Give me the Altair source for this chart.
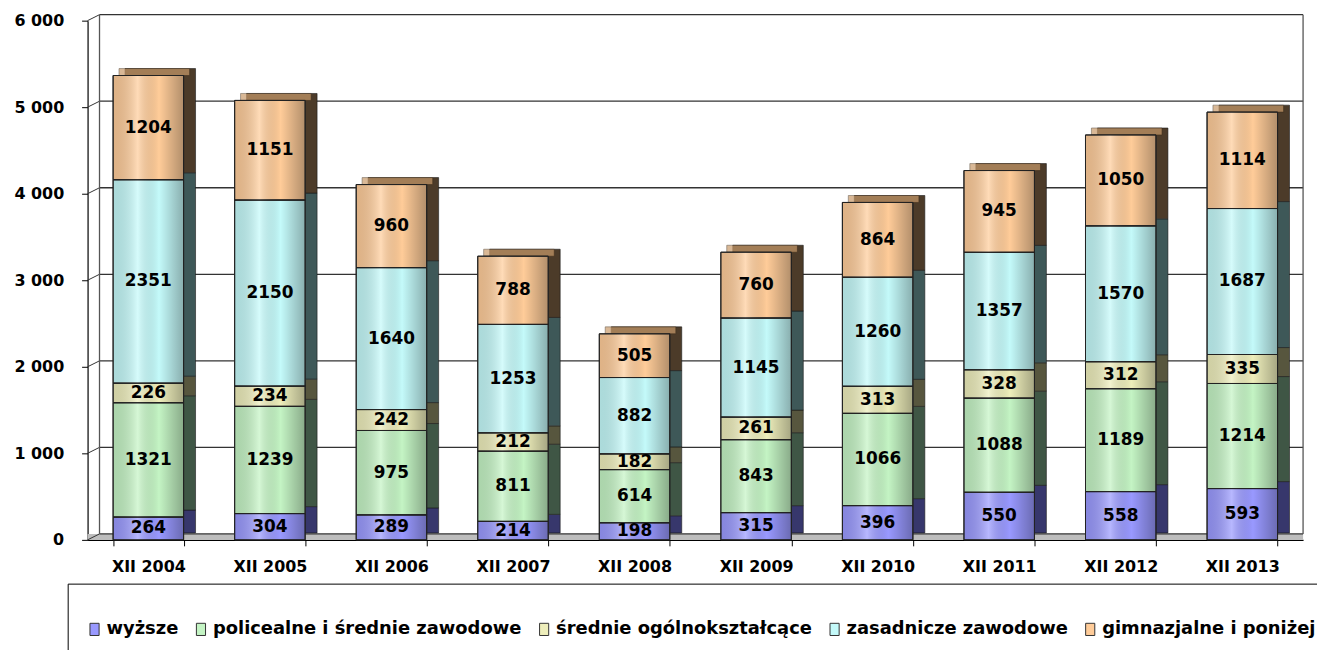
import altair as alt
import pandas as pd

years = ["XII 2004", "XII 2005", "XII 2006", "XII 2007", "XII 2008",
         "XII 2009", "XII 2010", "XII 2011", "XII 2012", "XII 2013"]
series = ["wyższe", "policealne i średnie zawodowe", "średnie ogólnokształcące",
          "zasadnicze zawodowe", "gimnazjalne i poniżej"]
wyzsze = [264, 304, 289, 214, 198, 315, 396, 550, 558, 593]
policealne = [1321, 1239, 975, 811, 614, 843, 1066, 1088, 1189, 1214]
srednie = [226, 234, 242, 212, 182, 261, 313, 328, 312, 335]
zasadnicze = [2351, 2150, 1640, 1253, 882, 1145, 1260, 1357, 1570, 1687]
gimnazjalne = [1204, 1151, 960, 788, 505, 760, 864, 945, 1050, 1114]
front_colors = ["#9999ff", "#c4f4c4", "#eeeebb", "#c4fafa", "#ffcc99"]
side_colors = ["#37376c", "#3f5645", "#57563e", "#3e5858", "#4c3b29"]
y_ticks = [0, 1000, 2000, 3000, 4000, 5000, 6000]

values = [wyzsze, policealne, srednie, zasadnicze, gimnazjalne]
rows = []
for i, yr in enumerate(years):
    base = 0
    for k, (s, vals) in enumerate(zip(series, values)):
        v = vals[i]
        rows.append(dict(year=yr, series=s, value=v, y0=base, y1=base + v,
                         mid=base + v / 2, side=side_colors[k], order=k))
        base += v
df = pd.DataFrame(rows)
tot = df.groupby("year", as_index=False)["value"].sum().rename(columns={"value": "total"})
grid = pd.DataFrame({"g": y_ticks})

W, H = 1222, 522
DX, DY = 12, -6
FONT = "DejaVu Sans"

xscale = alt.Scale(domain=years, paddingInner=0.42, paddingOuter=0.21)
yscale = alt.Scale(domain=[0, 6000], nice=False)
xaxis = alt.Axis(title=None, labelFont=FONT, labelFontSize=16, labelFontWeight="bold",
                 labelColor="black", labelAngle=0, tickBand="extent", tickSize=6,
                 tickColor="black", domainColor="black", domainWidth=1.2, labelPadding=13,
                 labelLimit=0)
yaxis = alt.Axis(title=None, values=y_ticks, grid=False,
                 labelExpr="replace(format(datum.value, ','), ',', ' ')",
                 labelFont=FONT, labelFontSize=16, labelFontWeight="bold", labelColor="black",
                 tickSize=6, tickColor="black", domainColor="black", domainWidth=1.2,
                 labelPadding=18)

X = alt.X("year:N", scale=xscale, axis=xaxis, sort=years)

# back wall grid
grid_lines = alt.Chart(grid).mark_rule(color="#333333", strokeWidth=1.3, yOffset=DY).encode(
    x=alt.value(DX), x2=alt.value(W),
    y=alt.Y("g:Q", scale=yscale, axis=yaxis))
diag = alt.Chart(grid).mark_rule(color="#333333", strokeWidth=1, y2Offset=DY).encode(
    x=alt.value(0), x2=alt.value(DX),
    y=alt.Y("g:Q", scale=yscale, axis=yaxis), y2=alt.Y2("g:Q"))
walls = alt.Chart(pd.DataFrame({"xv": [DX, W]})).mark_rule(
    color="#555555", strokeWidth=1.3, yOffset=DY, y2Offset=DY).encode(
    x=alt.X("xv:Q", scale=None),
    y=alt.Y(datum=6000, scale=yscale, axis=yaxis), y2=alt.Y2(datum=0))
floor = alt.Chart(grid.head(1)).mark_rect(color="#bdbdbd", y2Offset=DY).encode(
    x=alt.value(0), x2=alt.value(W),
    y=alt.Y(datum=0, scale=yscale, axis=yaxis), y2=alt.Y2(datum=0))

side = alt.Chart(df).mark_bar(xOffset=DX, yOffset=DY - 1, y2Offset=DY - 1,
                              stroke="#1a1a1a", strokeWidth=0.6).encode(
    x=X, y=alt.Y("y1:Q", scale=yscale, axis=yaxis), y2="y0:Q",
    fill=alt.Fill("side:N", scale=None))
top = alt.Chart(tot).mark_tick(thickness=7, size=71, xOffset=6, yOffset=-3.5,
                               color="#c99b6b", stroke="#3a2a1a", strokeWidth=0.6).encode(
    x=X, y=alt.Y("total:Q", scale=yscale, axis=yaxis))
front = alt.Chart(df).mark_bar(stroke="#222222", strokeWidth=1).encode(
    x=X, y=alt.Y("y1:Q", scale=yscale, axis=yaxis), y2="y0:Q",
    color=alt.Color("series:N", scale=alt.Scale(domain=series, range=front_colors),
                    sort=series,
                    legend=alt.Legend(title=" ", orient="none", legendX=-20, legendY=566,
                                      direction="horizontal",
                                      symbolType="M-0.75,-1H0.75V1H-0.75Z",
                                      symbolSize=150, symbolStrokeColor="#333333",
                                      symbolStrokeWidth=1, labelFont=FONT, labelFontSize=18,
                                      labelFontWeight="bold", labelColor="black",
                                      columnPadding=13, labelOffset=3, padding=18,
                                      strokeColor="black", fillColor="white",
                                      titleFontSize=13, titlePadding=6, labelLimit=0)))
shine = alt.Chart(df).mark_bar(
    fill=alt.Gradient(gradient="linear", x1=0, x2=1, y1=0, y2=0,
                      stops=[alt.GradientStop(color="rgba(0,0,0,0.12)", offset=0),
                             alt.GradientStop(color="rgba(255,255,255,0.30)", offset=0.35),
                             alt.GradientStop(color="rgba(0,0,0,0.0)", offset=0.65),
                             alt.GradientStop(color="rgba(0,0,0,0.30)", offset=1)]),
    stroke="#222222", strokeWidth=1).encode(
    x=X, y=alt.Y("y1:Q", scale=yscale, axis=yaxis), y2="y0:Q")
labels = alt.Chart(df).mark_text(font=FONT, fontWeight="bold", fontSize=17, color="black",
                                 baseline="middle").encode(
    x=X, y=alt.Y("mid:Q", scale=yscale, axis=yaxis), text="value:Q")

chart = alt.layer(floor, grid_lines, diag, walls, side, top, front, shine, labels).properties(
    width=W, height=H,
    autosize=alt.AutoSizeParams(type="none"),
    padding={"left": 80, "top": 11, "right": 14, "bottom": 109},
    background="white",
).configure_view(stroke=None)

chart.save("out.html", embed_options={"renderer": "svg", "actions": False})
